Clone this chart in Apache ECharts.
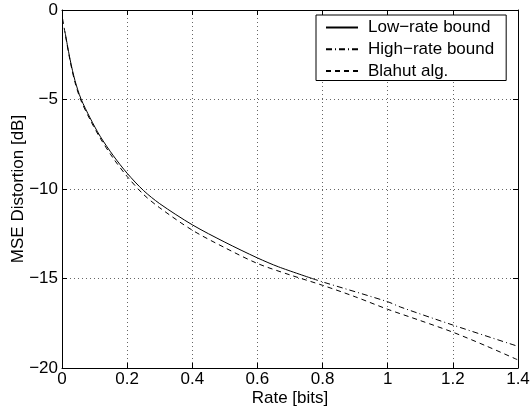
<!DOCTYPE html>
<html>
<head>
<meta charset="utf-8">
<style>
html,body{margin:0;padding:0;background:#fff;}
#chart{width:531px;height:414px;}
</style>
<script src="https://cdn.jsdelivr.net/npm/echarts@6/dist/echarts.min.js"></script>
</head>
<body>
<div id="chart"></div>
<script>
// Data
const seriesNames = ['Low\u2212rate bound', 'High\u2212rate bound', 'Blahut alg.'];
const xTicks = [0, 0.2, 0.4, 0.6, 0.8, 1, 1.2, 1.4];
const yTicks = [-20, -15, -10, -5, 0];

const lowRateR = [0.009, 0.025, 0.04, 0.058, 0.086, 0.117, 0.158, 0.2, 0.25, 0.3, 0.4, 0.5, 0.6, 0.665, 0.768];
const lowRateD = [-1.2, -2.78, -3.95, -4.95, -6.02, -7.05, -8.15, -9.12, -10.08, -10.82, -12.0, -12.97, -13.85, -14.35, -15.0];

const highRateR = [0.768, 0.8, 1.0, 1.04, 1.2, 1.4];
const highRateD = [-15.0, -15.19, -16.3, -16.6, -17.6, -18.79];

const blahutR = [0.002, 0.009, 0.025, 0.04, 0.058, 0.086, 0.117, 0.158, 0.2, 0.25, 0.3, 0.4, 0.5, 0.6, 0.7, 0.8, 0.9, 1.0, 1.1, 1.2, 1.3, 1.4];
const blahutD = [-0.5, -1.25, -2.85, -4.05, -5.05, -6.12, -7.15, -8.3, -9.3, -10.3, -11.05, -12.3, -13.28, -14.16, -14.8, -15.38, -16.02, -16.72, -17.35, -18.0, -18.75, -19.55];

function pairs(xs, ys) { return xs.map((x, i) => [x, ys[i]]); }
function fmt(v) { return String(+v.toFixed(2)).replace('-', '\u2212'); }

const FONT = 'Liberation Sans, Arial, Helvetica, sans-serif';
const FS = 17;

const chart = echarts.init(document.getElementById('chart'), null, {renderer: 'canvas'});

const common = {
  axisLine: {show: true, onZero: false, lineStyle: {color: '#000', width: 1}},
  axisTick: {show: true, inside: true, length: 5, lineStyle: {color: '#000', width: 1}},
};

chart.setOption({
  animation: false,
  backgroundColor: '#fff',
  grid: {left: 62, right: 13, top: 10, bottom: 46, containLabel: false, outerBoundsMode: 'none'},
  legend: {
    orient: 'vertical',
    left: 316, top: 15,
    data: seriesNames,
    itemWidth: 32, itemHeight: 14, itemGap: 4.75,
    padding: [4, 12, 1, 9],
    backgroundColor: '#fff',
    borderColor: '#000', borderWidth: 1, borderRadius: 0,
    selectedMode: false,
    itemStyle: {opacity: 0},
    textStyle: {fontFamily: FONT, fontSize: FS, color: '#000', lineHeight: 17, padding: [0, 0, 0, 5]}
  },
  xAxis: [{
    type: 'value', min: 0, max: 1.4, interval: 0.2, position: 'bottom',
    name: 'Rate [bits]', nameLocation: 'middle', nameGap: 22, nameMoveOverlap: false,
    nameTextStyle: {fontFamily: FONT, fontSize: FS, color: '#000'},
    ...common,
    axisLabel: {fontFamily: FONT, fontSize: FS, color: '#000', margin: 3, formatter: fmt},
    splitLine: {show: true, lineStyle: {color: '#666', type: [1, 3], width: 1}}
  }, {
    type: 'value', min: 0, max: 1.4, interval: 0.2, position: 'top',
    ...common, axisLabel: {show: false}, splitLine: {show: false}
  }],
  yAxis: [{
    type: 'value', min: -20, max: 0, interval: 5, position: 'left',
    name: 'MSE Distortion [dB]', nameLocation: 'middle', nameGap: 35, nameMoveOverlap: false,
    nameTextStyle: {fontFamily: FONT, fontSize: FS, color: '#000'},
    ...common,
    axisLabel: {fontFamily: FONT, fontSize: FS, color: '#000', margin: 4, formatter: fmt},
    splitLine: {show: true, lineStyle: {color: '#666', type: [1, 3], width: 1}}
  }, {
    type: 'value', min: -20, max: 0, interval: 5, position: 'right',
    ...common, axisLabel: {show: false}, splitLine: {show: false}
  }],
  series: [{
    name: seriesNames[0], type: 'line', data: pairs(lowRateR, lowRateD),
    showSymbol: false, symbol: 'none', smooth: 0.3,
    lineStyle: {color: '#000', width: 1, type: 'solid'}, itemStyle: {color: '#000'}
  }, {
    name: seriesNames[1], type: 'line', data: pairs(highRateR, highRateD),
    showSymbol: false, symbol: 'none', smooth: 0.3,
    lineStyle: {color: '#000', width: 1, type: [6, 3, 1, 3]}, itemStyle: {color: '#000'}
  }, {
    name: seriesNames[2], type: 'line', data: pairs(blahutR, blahutD),
    showSymbol: false, symbol: 'none', smooth: 0.3,
    lineStyle: {color: '#000', width: 1, type: [5, 4]}, itemStyle: {color: '#000'}
  }]
});
</script>
</body>
</html>
